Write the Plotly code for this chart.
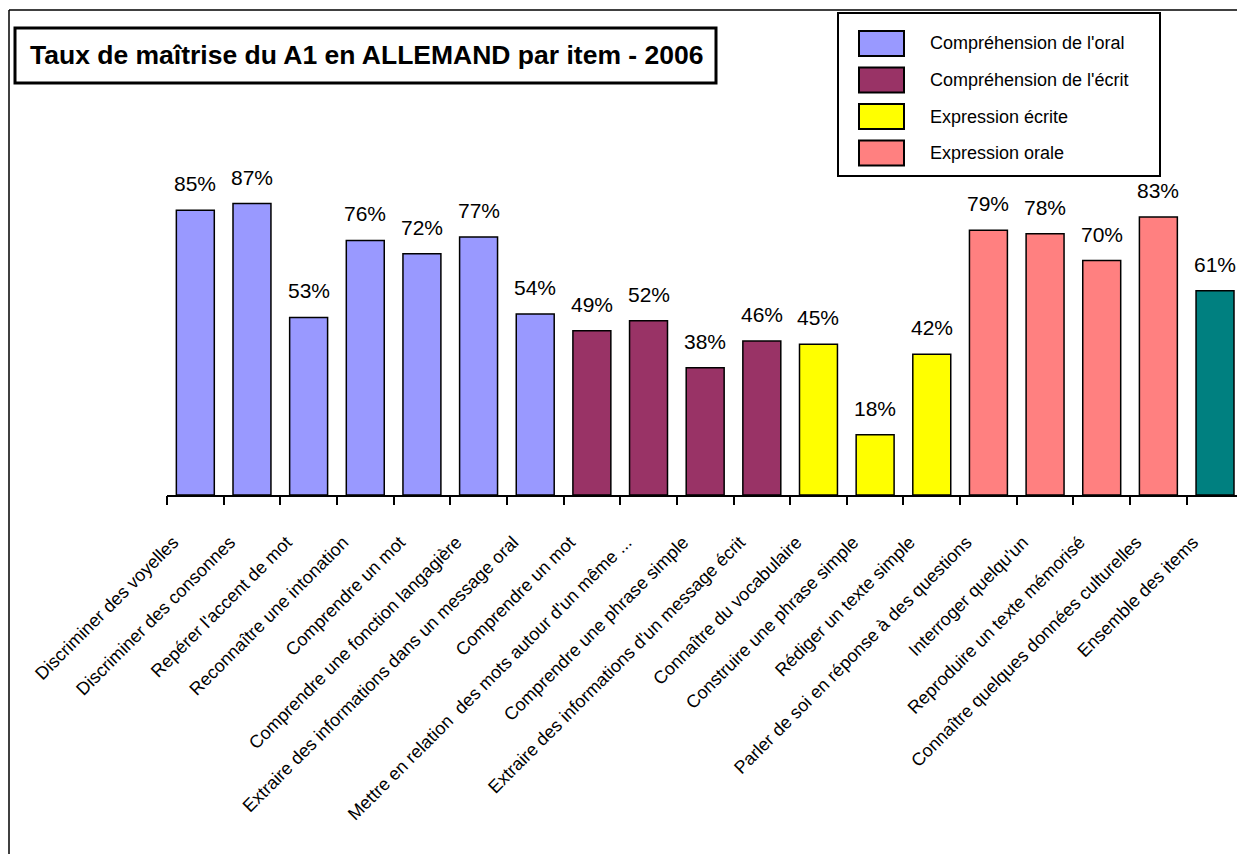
import plotly.graph_objects as go

categories = [
    "Discriminer des voyelles", "Discriminer des consonnes", "Repérer l'accent de mot",
    "Reconnaître une intonation", "Comprendre un mot", "Comprendre une fonction langagière",
    "Extraire des informations dans un message oral", "Comprendre un mot",
    "Mettre en relation  des mots autour d'un même ...", "Comprendre une phrase simple",
    "Extraire des informations d'un message écrit", "Connaître du vocabulaire",
    "Construire une phrase simple", "Rédiger un texte simple",
    "Parler de soi en réponse à des questions", "Interroger quelqu'un",
    "Reproduire un texte mémorisé", "Connaître quelques données culturelles",
    "Ensemble des items",
]
values = [85, 87, 53, 76, 72, 77, 54, 49, 52, 38, 46, 45, 18, 42, 79, 78, 70, 83, 61]
groups = ["Compréhension de l'oral"] * 7 + ["Compréhension de l'écrit"] * 4 + \
         ["Expression écrite"] * 3 + ["Expression orale"] * 4 + ["Ensemble"]
group_names = ["Compréhension de l'oral", "Compréhension de l'écrit",
               "Expression écrite", "Expression orale", "Ensemble"]
group_colors = ["#9999FF", "#993366", "#FFFF00", "#FF8080", "#008080"]
legend_groups = group_names[:4]
title_text = "Taux de maîtrise du A1 en ALLEMAND par item - 2006"

FONT = "Liberation Sans, Arial, sans-serif"
W, H = 1237, 854
L = 167
T = 160
BASE = 495
B = H - BASE
PW, PH = W - L, BASE - T
CAT_PX = 56.65

def px(x):  # page x -> paper
    return (x - L) / PW

def py(y):  # page y -> paper
    return (BASE - y) / PH

xs = list(range(len(categories)))
xr = [-0.5, -0.5 + PW / CAT_PX]
fig = go.Figure()
for g, c in zip(group_names, group_colors):
    idx = [i for i, gg in enumerate(groups) if gg == g]
    fig.add_trace(go.Bar(
        x=[xs[i] for i in idx], y=[values[i] for i in idx],
        marker=dict(color=c, line=dict(color="black", width=1.5)),
        width=0.67, showlegend=False, hoverinfo="skip",
    ))

annotations = []
for i, v in zip(xs, values):
    annotations.append(dict(x=i, y=v, xref="x", yref="y", text=f"{v}%",
                            showarrow=False, yanchor="bottom", yshift=13,
                            font=dict(family=FONT, size=21, color="black")))

shapes = []
# outer frame (left and top edges)
shapes.append(dict(type="line", xref="paper", yref="paper", x0=px(9), x1=px(W + 20),
                   y0=py(10), y1=py(10), line=dict(color="black", width=1.5)))
shapes.append(dict(type="line", xref="paper", yref="paper", x0=px(9), x1=px(9),
                   y0=py(10), y1=py(H + 20), line=dict(color="black", width=1.5)))
# title box
shapes.append(dict(type="rect", xref="paper", yref="paper", x0=px(15), x1=px(716),
                   y0=py(28), y1=py(83), line=dict(color="black", width=3),
                   fillcolor="white"))
annotations.append(dict(x=px(366), y=py(55), xref="paper", yref="paper",
                        text=f"<b>{title_text}</b>", showarrow=False,
                        xanchor="center", yanchor="middle",
                        font=dict(family=FONT, size=26.5, color="black")))
# legend box
shapes.append(dict(type="rect", xref="paper", yref="paper", x0=px(838), x1=px(1160),
                   y0=py(13), y1=py(176), line=dict(color="black", width=2),
                   fillcolor="white"))
for k, g in enumerate(legend_groups):
    cy = 43.5 + k * 36.5
    shapes.append(dict(type="rect", xref="paper", yref="paper", x0=px(859), x1=px(904),
                       y0=py(cy - 12.5), y1=py(cy + 12.5),
                       line=dict(color="black", width=2),
                       fillcolor=group_colors[group_names.index(g)]))
    annotations.append(dict(x=px(928), y=py(cy), xref="paper", yref="paper", text=g,
                            showarrow=False, xanchor="left", yanchor="middle",
                            font=dict(family=FONT, size=18, color="black")))

fig.update_layout(
    width=W, height=H, margin=dict(l=L, r=0, t=T, b=B, pad=0),
    paper_bgcolor="white", plot_bgcolor="white",
    shapes=shapes, annotations=annotations, bargap=0.33,
    xaxis=dict(range=xr, tickmode="array", tickvals=xs, ticktext=categories,
               tickangle=-45, ticks="", showline=True, linecolor="black", linewidth=1.5,
               showgrid=False, zeroline=False, ticklabelstandoff=28, ticklabelshift=-22,
               tickfont=dict(family=FONT, size=18, color="black")),
    xaxis2=dict(range=xr, overlaying="x", side="bottom", anchor="y",
                tickmode="array", tickvals=[i - 0.5 for i in xs] + [len(xs) - 0.5],
                showticklabels=False, ticks="outside", ticklen=9, tickcolor="black",
                tickwidth=1.5, showgrid=False, zeroline=False, showline=False),
    yaxis=dict(range=[0, 100], visible=False, fixedrange=True),
)
fig.add_trace(go.Scatter(x=[0], y=[0], xaxis="x2", mode="markers",
                         marker=dict(opacity=0), showlegend=False, hoverinfo="skip"))
fig.write_html("out.html", config={"displayModeBar": False},
               post_script="document.body.style.margin='0';document.body.style.overflow='hidden';")
